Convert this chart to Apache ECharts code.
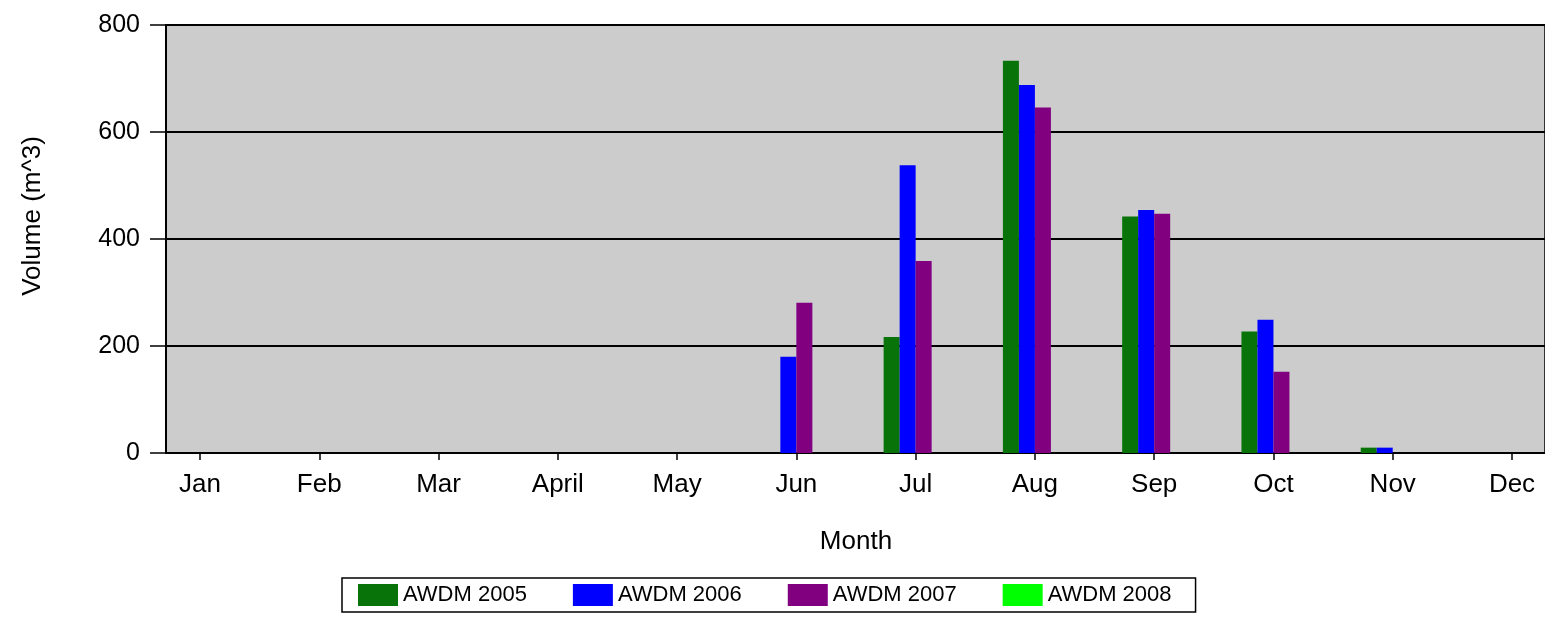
<!DOCTYPE html>
<html>
<head>
<meta charset="utf-8">
<script src="https://cdn.jsdelivr.net/npm/echarts@6/dist/echarts.min.js"></script>
<style>
html,body{margin:0;padding:0;background:#fff;}
#chart{width:1545px;height:632px;}
</style>
</head>
<body>
<div id="chart"></div>
<script>
const months = ['Jan','Feb','Mar','April','May','Jun','Jul','Aug','Sep','Oct','Nov','Dec'];
const seriesNames = ['AWDM 2005','AWDM 2006','AWDM 2007','AWDM 2008'];
const awdm2005 = [null,null,null,null,null,null,217,733,442,227,10,null];
const awdm2006 = [null,null,null,null,null,180,538,688,454,249,10,null];
const awdm2007 = [null,null,null,null,null,281,359,646,447,152,null,null];
const awdm2008 = [null,null,null,null,null,null,null,null,null,null,null,null];
const yTicks = [0,200,400,600,800];

const colors = ['#087308','#0000ff','#800080','#00ff00'];
const FONT = 'Liberation Sans, Arial, sans-serif';

const chart = echarts.init(document.getElementById('chart'));
const dataSets = [awdm2005, awdm2006, awdm2007, awdm2008];

chart.setOption({
  animation: false,
  textStyle: {fontFamily: FONT},
  grid: [
    {left: 166, top: 25, width: 1420, height: 428, show: true, backgroundColor: '#cccccc', borderColor: '#000', borderWidth: 1.5},
    {left: 200, top: 25, width: 1312, height: 428}
  ],
  xAxis: [
    {gridIndex: 0, type: 'value', min: 0, max: 1, show: false},
    {gridIndex: 1, type: 'category', data: months, boundaryGap: false,
     axisLine: {show: true, lineStyle: {color: '#000', width: 2}},
     axisTick: {show: true, length: 7, lineStyle: {color: '#000', width: 1.5}},
     axisLabel: {interval: 0, fontSize: 26, color: '#000', margin: 19, fontFamily: FONT},
     splitLine: {show: false},
     name: 'Month', nameLocation: 'middle', nameGap: 76,
     nameTextStyle: {fontSize: 26, color: '#000', fontFamily: FONT}}
  ],
  yAxis: [
    {gridIndex: 0, type: 'value', min: yTicks[0], max: yTicks[yTicks.length-1], interval: 200,
     axisLine: {show: true, lineStyle: {color: '#000', width: 2}},
     axisTick: {show: true, length: 16, lineStyle: {color: '#000', width: 1.5}},
     axisLabel: {fontSize: 25, color: '#000', margin: 26, fontFamily: FONT},
     splitLine: {show: true, lineStyle: {color: '#000', width: 2}}},
    {gridIndex: 1, type: 'value', min: 0, max: 800, show: false}
  ],
  legend: {
    left: 342, top: 578,
    data: seriesNames,
    icon: 'rect', itemWidth: 40, itemHeight: 22, itemGap: 46,
    borderColor: '#000', borderWidth: 1.5,
    padding: [6, 24, 6, 16],
    textStyle: {fontSize: 22, color: '#000', fontFamily: FONT}
  },
  graphic: [
    {type: 'text', x: 33, y: 216, rotation: Math.PI/2,
     style: {text: 'Volume (m^3)', fontSize: 26, fill: '#000', fontFamily: FONT, textAlign: 'center', textVerticalAlign: 'middle'}}
  ],
  series: seriesNames.map((n, i) => ({
    name: n, type: 'bar', xAxisIndex: 1, yAxisIndex: 1,
    data: dataSets[i], barWidth: 16, barGap: '0%',
    itemStyle: {color: colors[i]}
  }))
});
</script>
</body>
</html>
